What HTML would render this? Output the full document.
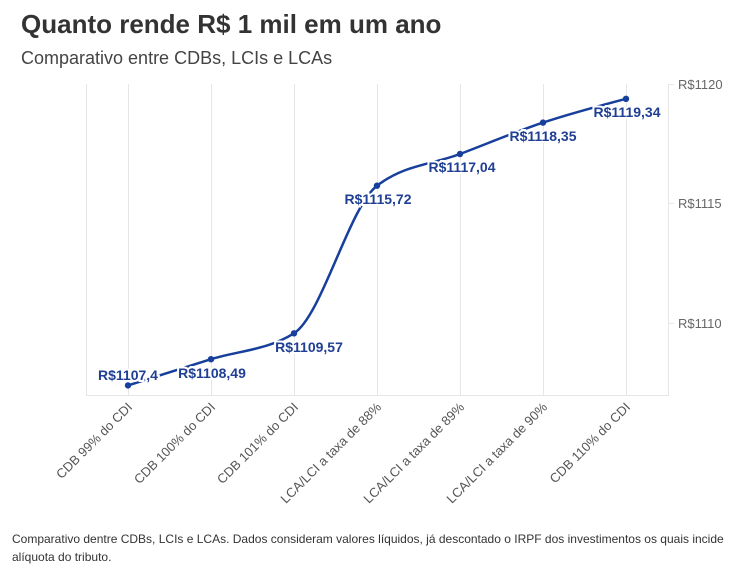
<!DOCTYPE html>
<html><head><meta charset="utf-8"><style>
body{margin:0;background:#fff;width:754px;height:563px;overflow:hidden;font-family:"Liberation Sans",sans-serif;}
.t{position:absolute;left:21px;top:9px;font-size:26px;font-weight:bold;color:#333;}
.s{position:absolute;left:21px;top:48px;font-size:18px;color:#444;}
.f{position:absolute;left:12px;top:530px;font-size:12px;line-height:18px;color:#333;width:730px;}
svg{position:absolute;left:0;top:0}
</style></head><body>
<div class="t">Quanto rende R$ 1 mil em um ano</div>
<div class="s">Comparativo entre CDBs, LCIs e LCAs</div>
<svg width="754" height="563" font-family="Liberation Sans, sans-serif">
<g stroke="#e6e6e6" stroke-width="1">
<line x1="86.5" y1="84" x2="86.5" y2="396"/>
<line x1="128.5" y1="84" x2="128.5" y2="396"/>
<line x1="211.5" y1="84" x2="211.5" y2="396"/>
<line x1="294.5" y1="84" x2="294.5" y2="396"/>
<line x1="377.5" y1="84" x2="377.5" y2="396"/>
<line x1="460.5" y1="84" x2="460.5" y2="396"/>
<line x1="543.5" y1="84" x2="543.5" y2="396"/>
<line x1="626.5" y1="84" x2="626.5" y2="396"/>
<line x1="668.5" y1="84" x2="668.5" y2="396"/>
<line x1="86" y1="395.5" x2="668" y2="395.5"/>
<line x1="668" y1="84.5" x2="674" y2="84.5"/>
<line x1="668" y1="203.5" x2="674" y2="203.5"/>
<line x1="668" y1="323.5" x2="674" y2="323.5"/>
</g>
<g font-size="13" fill="#666">
<text x="678" y="89">R$1120</text>
<text x="678" y="208">R$1115</text>
<text x="678" y="328">R$1110</text>
</g>
<path d="M128,385.4 C155.67,376.63 183.33,367.89 211,359.2 C238.67,350.51 266.33,350.57 294,333.3 C321.67,316.03 349.33,206.84 377,185.7 C404.67,164.56 432.33,164.51 460,154 C487.67,143.49 515.33,131.8 543,122.6 C570.67,113.4 598.33,106.1 626,98.8" fill="none" stroke="#173f9c" stroke-width="2.5"/>
<g fill="#173f9c">
<circle cx="128" cy="385.4" r="3.2"/><circle cx="211" cy="359.2" r="3.2"/><circle cx="294" cy="333.3" r="3.2"/><circle cx="377" cy="185.7" r="3.2"/><circle cx="460" cy="154" r="3.2"/><circle cx="543" cy="122.6" r="3.2"/><circle cx="626" cy="98.8" r="3.2"/>
</g>
<g font-size="14" font-weight="bold" fill="#1f3f94" stroke="#fff" stroke-width="4" paint-order="stroke" text-anchor="middle">
<text x="128" y="380">R$1107,4</text>
<text x="212" y="378">R$1108,49</text>
<text x="309" y="352">R$1109,57</text>
<text x="378" y="204">R$1115,72</text>
<text x="462" y="172">R$1117,04</text>
<text x="543" y="141">R$1118,35</text>
<text x="627" y="117">R$1119,34</text>
</g>
<g font-size="13" fill="#555" text-anchor="end">
<text transform="translate(133,408) rotate(-45)">CDB 99% do CDI</text>
<text transform="translate(216,408) rotate(-45)">CDB 100% do CDI</text>
<text transform="translate(299,408) rotate(-45)">CDB 101% do CDI</text>
<text transform="translate(382,408) rotate(-45)">LCA/LCI a taxa de 88%</text>
<text transform="translate(465,408) rotate(-45)">LCA/LCI a taxa de 89%</text>
<text transform="translate(548,408) rotate(-45)">LCA/LCI a taxa de 90%</text>
<text transform="translate(631,408) rotate(-45)">CDB 110% do CDI</text>
</g>
</svg>
<div class="f">Comparativo dentre CDBs, LCIs e LCAs. Dados consideram valores líquidos, já descontado o IRPF dos investimentos os quais incide alíquota do tributo.</div>
</body></html>
